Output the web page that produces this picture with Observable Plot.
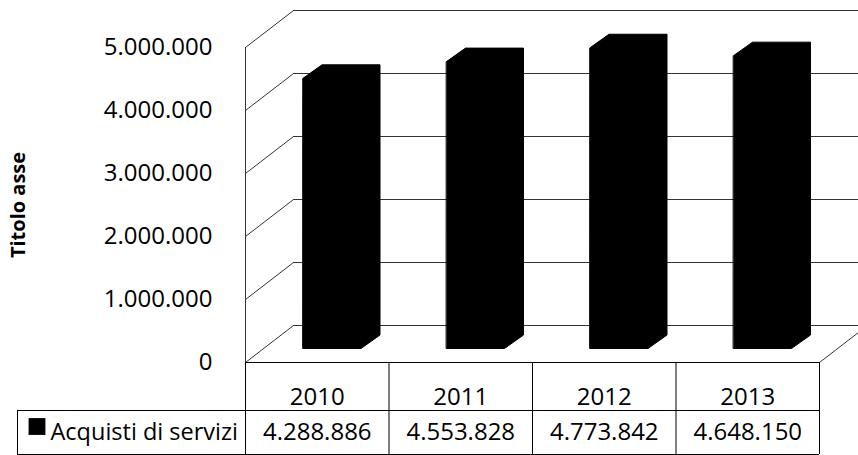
<!DOCTYPE html>
<html>
<head>
<meta charset="utf-8">
<script src="https://cdn.jsdelivr.net/npm/d3@7"></script>
<script src="https://cdn.jsdelivr.net/npm/@observablehq/plot@0.6"></script>
<style>
  html, body { margin: 0; padding: 0; background: #fff; }
</style>
</head>
<body>
<div id="chart"></div>
<script>
// ---- data ----
const years = ["2010", "2011", "2012", "2013"];
const values = [4288886, 4553828, 4773842, 4648150];
const yTicks = [0, 1000000, 2000000, 3000000, 4000000, 5000000];
const seriesName = "Acquisti di servizi";
const axisTitle = "Titolo asse";

// ---- layout ----
const W = 858, H = 455;
const ML = 245, MR = 39, MT = 47, MB = 93;
const YMAX = 5000000;
const XU = (W - ML - MR) / years.length;      // px per category
const YU = (H - MT - MB) / YMAX;              // px per unit value
const wallDX = 48 / XU, wallDY = 37 / YU;     // 3D wall depth
const barLeft = 57.5 / XU, barW = 58 / XU;    // bar front face
const barDX = 19 / XU, barDY = 13.5 / YU;     // bar depth
const barBase = 14 / YU;                      // bar base above front floor edge
const lineColor = "#333";

const it = d3.formatLocale({decimal: ",", thousands: ".", grouping: [3], currency: ["€", ""]});
const fmt = it.format(",d");

const barPts = values.flatMap((v, i) => {
  const x0 = i + barLeft, x1 = x0 + barW, b = barBase, t = barBase + v;
  return [[x0, b], [x1, b], [x1 + barDX, b + barDY], [x1 + barDX, t + barDY], [x0 + barDX, t + barDY], [x0, t]]
    .map(([x, y]) => ({year: years[i], x, y}));
});
const cols = d3.range(years.length + 1);

const chart = Plot.plot({
  width: W, height: H,
  marginLeft: ML, marginRight: MR, marginTop: MT, marginBottom: MB,
  x: {domain: [0, years.length], axis: null},
  y: {domain: [0, YMAX], axis: null},
  style: {fontFamily: "'Open Sans', sans-serif", fontSize: "24px", color: "black", background: "white", overflow: "visible"},
  marks: [
    // back wall gridlines
    Plot.ruleY(yTicks, {y: d => d + wallDY, x1: wallDX, x2: years.length + wallDX, stroke: lineColor, strokeWidth: 1}),
    // side wall diagonals
    Plot.link(yTicks, {x1: 0, y1: d => d, x2: wallDX, y2: d => d + wallDY, stroke: lineColor, strokeWidth: 1}),
    // front left edge
    Plot.ruleX([0], {y1: 0, y2: YMAX, stroke: lineColor, strokeWidth: 1}),
    // floor right edge
    Plot.link([years.length], {x1: d => d, y1: 0, x2: d => d + wallDX, y2: wallDY, stroke: lineColor, strokeWidth: 1}),
    // bars (3D silhouette)
    Plot.line(barPts, {x: "x", y: "y", z: "year", fill: "black", stroke: "black", strokeWidth: 1, curve: "linear-closed"}),
    // y axis
    Plot.axisY(yTicks, {tickFormat: fmt, tickSize: 0, tickPadding: 33, fontSize: 24, label: null}),
    Plot.text([axisTitle], {frameAnchor: "left", rotate: -90, dx: -227, textAnchor: "middle", fontWeight: "bold", fontSize: 20}),
    // data table
    Plot.ruleY([0], {x1: 0, x2: years.length, stroke: "black", strokeWidth: 1}),
    Plot.ruleY([0], {x1: 0, x2: years.length, dy: 48, insetLeft: -228, stroke: "black", strokeWidth: 1}),
    Plot.ruleY([0], {x1: 0, x2: years.length, dy: 92, insetLeft: -228, stroke: "black", strokeWidth: 1}),
    Plot.ruleX(cols, {y1: 0, y2: 0, insetBottom: -92, stroke: "black", strokeWidth: 1}),
    Plot.ruleX([0], {y1: 0, y2: 0, dx: -228, insetTop: 48, insetBottom: -92, stroke: "black", strokeWidth: 1}),
    Plot.text(years, {x: (d, i) => i + 0.5, y: 0, dy: 35, text: d => d, fontSize: 24}),
    Plot.text(values, {x: (d, i) => i + 0.5, y: 0, dy: 70, text: d => fmt(d), fontSize: 24}),
    Plot.dot([seriesName], {x: 0, y: 0, dx: -208.5, dy: 64, symbol: "square", r: 9.5, fill: "black", stroke: null}),
    Plot.text([seriesName], {x: 0, y: 0, dx: -195, dy: 70, text: d => d, textAnchor: "start", fontSize: 23.5})
  ]
});
document.getElementById("chart").append(chart);
</script>
</body>
</html>
